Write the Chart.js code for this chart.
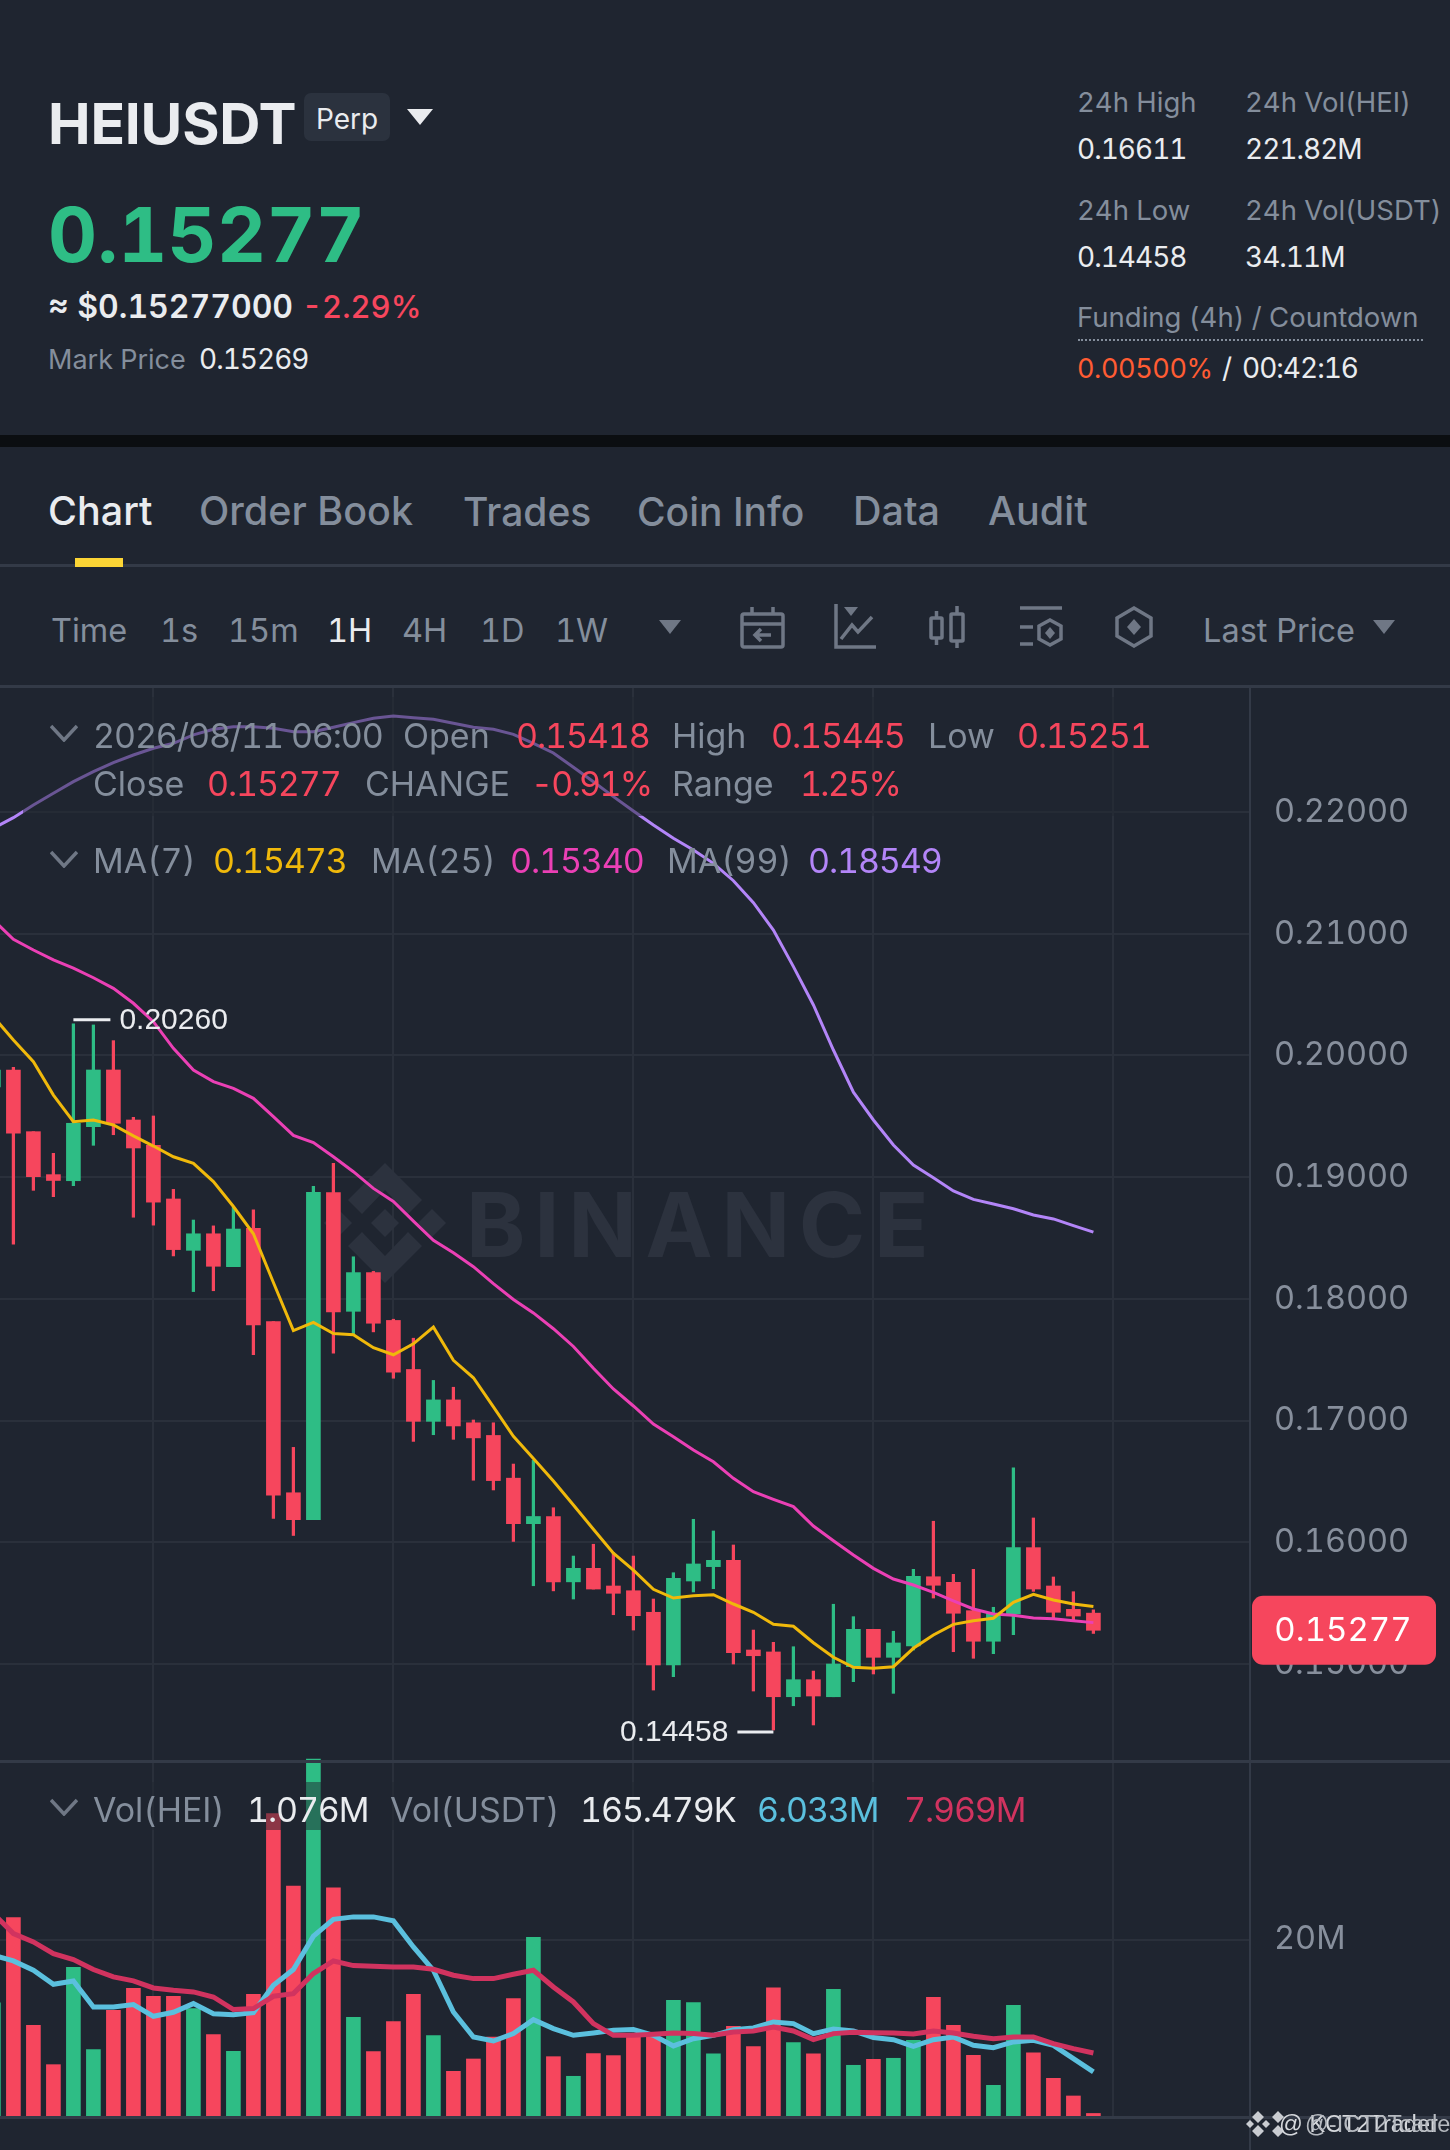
<!DOCTYPE html>
<html>
<head>
<meta charset="utf-8">
<title>HEIUSDT</title>
<script src="https://cdn.jsdelivr.net/npm/chart.js@4/dist/chart.umd.js"></script>
<style>
  html, body { margin: 0; padding: 0; background: #1f2530; }
  #page { position: relative; width: 1450px; height: 2150px; overflow: hidden; background: #1f2530; font-family: Inter, "Noto Sans", sans-serif; color: #848e9c; font-variant-numeric: tabular-nums; }
  #page canvas { position: absolute; left: 0; }
  .t { position: absolute; white-space: nowrap; transform: translateY(-50%); line-height: 1.2; }
  .abs { position: absolute; }
  .head { font-size: 27.5px; }
  .head.w { font-size: 28px; letter-spacing: -1px; }
  .tab { font-size: 39.5px; font-weight: 500; top: 512px; }
  .tool { font-size: 32.5px; top: 630px; }
  .leg { font-size: 34px; }
  .n { letter-spacing: -1.1px; }
  .p { letter-spacing: -1.7px; }
  .w { color: #eaecef; }
  .r { color: #f6465d; }
  .line { position: absolute; background: #333a47; }
</style>
</head>
<body>
<div id="page">
  <!-- header -->
  <div class="t w" style="left:48px;top:124px;font-size:57px;font-weight:700;letter-spacing:-.2px">HEIUSDT</div>
  <div class="abs" style="left:304px;top:93px;width:86px;height:48px;border-radius:7px;background:#2b323e"></div>
  <div class="t w" style="left:316px;top:120px;font-size:28px">Perp</div>
  <svg class="abs" style="left:407px;top:109px" width="27" height="17"><path d="M0 0H26L13 16Z" fill="#eaecef"/></svg>
  <div class="t" style="left:48px;top:235px;font-size:76px;font-weight:700;letter-spacing:.3px;color:#2ebd85">0.15277</div>
  <div class="t w" style="left:48px;top:307px;font-size:32px;font-weight:600">≈ $0.15277000</div>
  <div class="t r" style="left:302px;top:307px;font-size:31px;font-weight:500">-2.29%</div>
  <div class="t head" style="left:48px;top:360px;font-size:27px">Mark Price</div>
  <div class="t head w" style="left:199px;top:360px">0.15269</div>

  <div class="t head" style="left:1077px;top:102px">24h High</div>
  <div class="t head" style="left:1245px;top:102px">24h Vol(HEI)</div>
  <div class="t head w" style="left:1077px;top:150px">0.16611</div>
  <div class="t head w" style="left:1245px;top:150px">221.82M</div>
  <div class="t head" style="left:1077px;top:210px">24h Low</div>
  <div class="t head" style="left:1245px;top:210px">24h Vol(USDT)</div>
  <div class="t head w" style="left:1077px;top:258px">0.14458</div>
  <div class="t head w" style="left:1245px;top:258px">34.11M</div>
  <div class="t head" style="left:1077px;top:317px">Funding (4h) / Countdown</div>
  <div class="abs" style="left:1078px;top:339px;width:345px;border-top:2px dotted #848e9c"></div>
  <div class="t head" style="left:1077px;top:369px;font-size:27px;letter-spacing:-.4px;color:#ff5c33">0.00500%</div>
  <div class="t head w" style="left:1222px;top:369px">/</div>
  <div class="t head w" style="left:1242px;top:369px">00:42:16</div>

  <div class="abs" style="left:0;top:435px;width:1450px;height:12px;background:#0b0e11"></div>

  <!-- tabs -->
  <div class="t tab w" style="left:48px">Chart</div>
  <div class="t tab" style="left:199px">Order Book</div>
  <div class="t tab" style="left:463px;font-size:39px">Trades</div>
  <div class="t tab" style="left:637px;font-size:39px">Coin Info</div>
  <div class="t tab" style="left:853px">Data</div>
  <div class="t tab" style="left:988px">Audit</div>
  <div class="line" style="left:0;top:564px;width:1450px;height:3px"></div>
  <div class="abs" style="left:75px;top:558px;width:48px;height:9px;background:#fcd535"></div>

  <!-- toolbar -->
  <div class="t tool" style="left:51px">Time</div>
  <div class="t tool" style="left:160px">1s</div>
  <div class="t tool" style="left:228px">15m</div>
  <div class="t tool w" style="left:327px">1H</div>
  <div class="t tool" style="left:402px">4H</div>
  <div class="t tool" style="left:480px">1D</div>
  <div class="t tool" style="left:555px">1W</div>
  <svg class="abs" style="left:659px;top:620px" width="22" height="14"><path d="M0 0H22L11 14Z" fill="#6f7785"/></svg>
  <svg class="abs" style="left:740px;top:605px" width="46" height="44" fill="none" stroke="#6f7785" stroke-width="3.5">
    <rect x="2" y="9" width="41" height="33" rx="2"/><path d="M2 19H43M12 2V9M33 2V9"/><path d="M31 30H15M21 24L15 30L21 36"/>
  </svg>
  <svg class="abs" style="left:834px;top:604px" width="44" height="46" fill="none" stroke="#6f7785" stroke-width="3.5">
    <path d="M2 0V43H42M7 35L18 21L24 28L38 13"/><path d="M10 3H24L17 12Z" fill="#6f7785" stroke="none"/>
  </svg>
  <svg class="abs" style="left:929px;top:606px" width="38" height="42" fill="none" stroke="#6f7785" stroke-width="3.5">
    <rect x="2" y="12" width="11" height="20" rx="1"/><path d="M7.5 5V12M7.5 32V39"/><rect x="22" y="8" width="12" height="27" rx="1"/><path d="M28 0V8M28 35V42"/>
  </svg>
  <svg class="abs" style="left:1020px;top:606px" width="44" height="42" fill="none" stroke="#6f7785" stroke-width="3.5">
    <path d="M0 2H42M0 21H13M0 38H13"/><path d="M30 14L41 20V33L30 39L19 33V20Z"/><path d="M30 21L35 27L30 33L25 27Z" fill="#6f7785" stroke="none"/>
  </svg>
  <svg class="abs" style="left:1115px;top:606px" width="38" height="42" fill="none" stroke="#6f7785" stroke-width="3.5">
    <path d="M19 2L36 12V30L19 40L2 30V12Z"/><path d="M19 13L26 21L19 29L12 21Z" fill="#6f7785" stroke="none"/>
  </svg>
  <div class="t tool" style="left:1203px">Last Price</div>
  <svg class="abs" style="left:1373px;top:620px" width="22" height="14"><path d="M0 0H22L11 14Z" fill="#6f7785"/></svg>

  <!-- charts -->
  <canvas id="priceChart" width="1450" height="1075" style="top:686px"></canvas>
  <canvas id="volumeChart" width="1450" height="392" style="top:1758px"></canvas>

  <div class="line" style="left:0;top:685px;width:1450px;height:3px"></div>
  <div class="line" style="left:0;top:1760px;width:1450px;height:3px"></div>
  <div class="line" style="left:0;top:2116px;width:1450px;height:3px"></div>
  <div class="line" style="left:1249px;top:2117px;width:2px;height:33px"></div>

  <!-- price legend -->
  <div class="abs" style="left:23px;top:697px;width:1127px;height:119px;background:rgba(31,37,48,.5)"></div>
  <svg class="abs" style="left:50px;top:724px" width="28" height="18" fill="none" stroke="#6f7785" stroke-width="3.5"><path d="M1 2L14 16L27 2"/></svg>
  <div class="t leg n" style="left:93px;top:736px">2026/08/11 06:00</div>
  <div class="t leg" style="left:403px;top:736px">Open</div>
  <div class="t leg n r" style="left:516px;top:736px">0.15418</div>
  <div class="t leg" style="left:672px;top:736px">High</div>
  <div class="t leg n r" style="left:771px;top:736px">0.15445</div>
  <div class="t leg" style="left:928px;top:736px">Low</div>
  <div class="t leg n r" style="left:1017px;top:736px">0.15251</div>
  <div class="t leg" style="left:93px;top:784px">Close</div>
  <div class="t leg n r" style="left:207px;top:784px">0.15277</div>
  <div class="t leg" style="left:365px;top:784px">CHANGE</div>
  <div class="t leg p r" style="left:531px;top:784px">-0.91%</div>
  <div class="t leg" style="left:672px;top:784px">Range</div>
  <div class="t leg p r" style="left:800px;top:784px">1.25%</div>
  <svg class="abs" style="left:50px;top:850px" width="28" height="18" fill="none" stroke="#6f7785" stroke-width="3.5"><path d="M1 2L14 16L27 2"/></svg>
  <div class="t leg" style="left:93px;top:861px">MA(7)</div>
  <div class="t leg n" style="left:213px;top:861px;color:#f0b90b">0.15473</div>
  <div class="t leg" style="left:371px;top:861px">MA(25)</div>
  <div class="t leg n" style="left:510px;top:861px;color:#eb40b5">0.15340</div>
  <div class="t leg" style="left:667px;top:861px">MA(99)</div>
  <div class="t leg n" style="left:808px;top:861px;color:#b385f8">0.18549</div>

  <!-- volume legend -->
  <div class="abs" style="left:23px;top:1782px;width:1017px;height:48px;background:rgba(31,37,48,.5)"></div>
  <svg class="abs" style="left:50px;top:1798px" width="28" height="18" fill="none" stroke="#6f7785" stroke-width="3.5"><path d="M1 2L14 16L27 2"/></svg>
  <div class="t leg" style="left:93px;top:1810px">Vol(HEI)</div>
  <div class="t leg n w" style="left:247px;top:1810px">1.076M</div>
  <div class="t leg" style="left:390px;top:1810px">Vol(USDT)</div>
  <div class="t leg n w" style="left:580px;top:1810px">165.479K</div>
  <div class="t leg n" style="left:757px;top:1810px;color:#5bc0de">6.033M</div>
  <div class="t leg n" style="left:904px;top:1810px;color:#d1335f">7.969M</div>

  <!-- overlapping share watermark -->
  <svg class="abs" style="left:1246px;top:2110px" width="44" height="28" fill="#c9ccd1"><path d="M12 1L18 7L12 13L6 7ZM12 15L18 21L12 27L6 21ZM4 10L8 14L4 18L0 14ZM20 10L24 14L20 18L16 14Z"/><path d="M32 1L38 7L32 13L26 7ZM32 15L38 21L32 27L26 21Z"/></svg>
  <div class="t" style="left:1279px;top:2124px;font:23.5px 'Liberation Sans',sans-serif;color:#d5d8dc">@ KCT2Trader</div>
  <div class="t" style="left:1305px;top:2124px;font:23.5px 'Liberation Sans',sans-serif;color:#b5b9bf">@-ICT2Tcades</div>
</div>

<script>
// candles, index 0 sits just off the left edge
const opens = [0.19741,0.19881,0.19374,0.19021,0.18971,0.19415,0.19881,0.19470,0.19262,0.18821,0.18399,0.18535,0.18265,0.18580,0.17813,0.16407,0.16186,0.18873,0.17898,0.18216,0.17823,0.17420,0.16994,0.17170,0.16982,0.16878,0.16527,0.16153,0.16212,0.15675,0.15786,0.15641,0.15602,0.15425,0.14992,0.15682,0.15800,0.15852,0.15115,0.15099,0.14731,0.14871,0.14731,0.14978,0.15285,0.15055,0.15148,0.15717,0.15671,0.15438,0.15187,0.15411,0.15956,0.15641,0.15449,0.15418];
const highs = [0.19881,0.19903,0.19374,0.19196,0.20260,0.20251,0.20122,0.19492,0.19503,0.18900,0.18648,0.18600,0.18753,0.18731,0.17813,0.16780,0.18924,0.19113,0.18346,0.18226,0.17833,0.17677,0.17330,0.17274,0.17005,0.16982,0.16643,0.16673,0.16284,0.15887,0.15984,0.15915,0.15887,0.15534,0.15750,0.16189,0.16093,0.15978,0.15279,0.15178,0.15142,0.14942,0.15491,0.15389,0.15285,0.15269,0.15778,0.16173,0.15737,0.15778,0.15466,0.16611,0.16200,0.15715,0.15594,0.15445];
const lows = [0.19741,0.18450,0.18892,0.18840,0.18931,0.19262,0.19349,0.18671,0.18606,0.18353,0.18060,0.18067,0.18265,0.17541,0.16196,0.16056,0.16186,0.17554,0.17703,0.17729,0.17348,0.16829,0.16884,0.16846,0.16510,0.16430,0.16007,0.15643,0.15601,0.15534,0.15616,0.15405,0.15279,0.14786,0.14896,0.15592,0.15619,0.15000,0.14778,0.14458,0.14657,0.14499,0.14731,0.14855,0.14918,0.14759,0.15115,0.15542,0.15101,0.15047,0.15085,0.15241,0.15597,0.15376,0.15362,0.15251];
const closes = [0.19881,0.19361,0.19004,0.18973,0.19443,0.19881,0.19443,0.19240,0.18795,0.18405,0.18535,0.18268,0.18574,0.17787,0.16387,0.16186,0.18876,0.17892,0.18216,0.17800,0.17398,0.16994,0.17170,0.16956,0.16858,0.16507,0.16153,0.16212,0.15675,0.15786,0.15616,0.15581,0.15397,0.14992,0.15704,0.15822,0.15852,0.15093,0.15068,0.14731,0.14871,0.14737,0.15000,0.15285,0.15055,0.15173,0.15721,0.15647,0.15417,0.15187,0.15417,0.15956,0.15616,0.15425,0.15394,0.15277];

const ma7 = [0.20319,0.20127,0.19949,0.19675,0.19456,0.19470,0.19429,0.19339,0.19256,0.19168,0.19114,0.18964,0.18759,0.18535,0.18135,0.17739,0.17807,0.17716,0.17706,0.17599,0.17541,0.17631,0.17768,0.17495,0.17352,0.17112,0.16871,0.16689,0.16504,0.16306,0.16107,0.15910,0.15772,0.15614,0.15542,0.15561,0.15569,0.15493,0.15425,0.15326,0.15310,0.15175,0.15055,0.14973,0.14965,0.14978,0.15129,0.15238,0.15326,0.15356,0.15376,0.15507,0.15573,0.15526,0.15493,0.15473];
const ma25 = [0.21113,0.20955,0.20867,0.20785,0.20717,0.20639,0.20552,0.20429,0.20278,0.20059,0.19881,0.19785,0.19730,0.19648,0.19497,0.19344,0.19284,0.19168,0.19045,0.18908,0.18801,0.18639,0.18482,0.18379,0.18265,0.18126,0.17995,0.17885,0.17755,0.17609,0.17430,0.17260,0.17120,0.16972,0.16868,0.16758,0.16662,0.16526,0.16416,0.16353,0.16293,0.16134,0.16013,0.15896,0.15786,0.15698,0.15649,0.15589,0.15518,0.15452,0.15411,0.15400,0.15378,0.15372,0.15356,0.15340];
const ma99 = [0.21867,0.21954,0.22058,0.22155,0.22250,0.22332,0.22406,0.22469,0.22524,0.22565,0.22634,0.22680,0.22702,0.22702,0.22689,0.22661,0.22661,0.22697,0.22735,0.22771,0.22790,0.22776,0.22763,0.22730,0.22697,0.22680,0.22639,0.22565,0.22486,0.22368,0.22250,0.22127,0.22009,0.21894,0.21785,0.21689,0.21579,0.21436,0.21256,0.21031,0.20730,0.20415,0.20045,0.19698,0.19470,0.19265,0.19100,0.18996,0.18887,0.18818,0.18780,0.18741,0.18689,0.18657,0.18602,0.18549];

// volume in millions
const volumes = [12.86,22.48,10.34,5.90,16.88,7.59,12.03,14.51,13.61,13.61,12.22,9.29,7.41,13.83,34.20,26.02,40.34,25.83,11.24,7.37,10.75,13.83,9.17,5.15,6.54,9.02,13.35,20.26,6.80,4.59,7.14,6.92,9.40,9.02,13.16,12.89,7.11,10.23,7.93,14.55,8.38,7.11,14.40,5.83,6.50,6.62,8.65,13.50,10.34,6.95,3.57,12.59,7.22,4.36,2.37,0.40];
const volMa5 = [18.23,17.59,16.54,14.96,15.34,12.41,12.41,12.67,11.35,11.80,12.78,11.65,11.54,11.77,14.85,16.62,20.38,22.29,22.56,22.56,22.11,19.17,16.54,11.84,9.02,8.57,9.40,10.98,9.96,9.21,9.47,9.77,9.85,9.21,8.01,8.83,9.21,9.85,10.04,10.71,10.53,9.40,9.92,9.70,8.95,8.72,7.97,8.72,9.02,8.08,7.82,8.46,8.65,8.08,6.58,5.08];
const volMa10 = [22.93,20.68,19.74,18.42,17.74,16.62,15.79,15.34,14.55,14.29,14.10,13.53,12.11,12.22,13.61,13.91,16.17,17.59,17.07,16.99,16.92,16.92,16.65,15.98,15.60,15.60,16.09,16.54,14.66,12.97,10.53,9.21,9.21,9.32,9.47,9.40,9.21,9.59,9.70,10.15,9.70,8.72,9.40,9.55,9.51,9.47,9.36,9.70,9.47,9.10,8.83,9.02,9.02,8.27,7.71,7.22];

const priceTicks = [0.15,0.16,0.17,0.18,0.19,0.20,0.21,0.22];
const volumeTicks = [20];
const timeGridLines = [8,20,32,44,56];
const lastPrice = closes[closes.length - 1];

const GREEN = '#2ebd85';
const RED = '#f6465d';
const GRID = '#2a303b';
const AXIS = '#333a47';
const LABEL = '#878f9c';
const WATERMARK = '#2c323e';

const candleColors = closes.map((c, i) => (c >= opens[i] ? GREEN : RED));
const points = (arr) => arr.map((v, i) => ({ x: i, y: v }));

function lineSet(values, color, width, order) {
    return { type: 'line', data: points(values), borderColor: color, borderWidth: width, pointRadius: 0, tension: 0, order: order };
}

function barSet(rows, thickness, order) {
    return { type: 'bar', data: rows, backgroundColor: candleColors, barThickness: thickness, grouped: false, order: order };
}

// x axis shared by both panes, grid every 12 candles
function xAxis() {
    return {
        type: 'linear',
        offset: false,
        min: 0.33,
        max: 62.83,
        afterBuildTicks: (scale) => { scale.ticks = timeGridLines.map(v => ({ value: v })); },
        afterFit: (scale) => { scale.height = 0; },
        ticks: { display: false },
        border: { display: false },
        grid: { color: GRID, lineWidth: 2, drawTicks: false, offset: false }
    };
}

function yAxis(ticks, min, max, format) {
    return {
        type: 'linear',
        offset: false,
        position: 'right',
        min: min,
        max: max,
        afterBuildTicks: (scale) => { scale.ticks = ticks.map(v => ({ value: v })); },
        afterFit: (scale) => {
            scale.width = 200;
            scale.paddingTop = 0;
            scale.paddingBottom = 0;
        },
        ticks: { color: LABEL, padding: 24, autoSkip: false, font: { family: 'Inter', size: 32.5 }, callback: format },
        border: { color: AXIS, width: 2 },
        grid: { color: GRID, lineWidth: 2, drawTicks: false, offset: false }
    };
}

const commonOptions = {
    responsive: false,
    animation: false,
    devicePixelRatio: 1,
    events: [],
    plugins: { legend: { display: false }, tooltip: { enabled: false } }
};

// faint logo behind the candles
const watermarkPlugin = {
    id: 'watermark',
    beforeDatasetsDraw(chart) {
        const ctx = chart.ctx;
        const cx = 385, cy = 1223 - 686;
        const poly = (pts) => {
            ctx.beginPath();
            pts.forEach((p, i) => (i ? ctx.lineTo(cx + p[0], cy + p[1]) : ctx.moveTo(cx + p[0], cy + p[1])));
            ctx.closePath();
            ctx.fill();
        };
        ctx.save();
        ctx.fillStyle = WATERMARK;
        poly([[0, -60], [37, -23], [23, -9], [0, -33], [-23, -9], [-37, -23]]);
        poly([[0, 60], [37, 23], [23, 9], [0, 33], [-23, 9], [-37, 23]]);
        poly([[0, -14], [14, 0], [0, 14], [-14, 0]]);
        poly([[47, -14], [61, 0], [47, 14], [33, 0]]);
        poly([[-47, -14], [-33, 0], [-47, 14], [-61, 0]]);
        ctx.font = '700 90px Inter';
        ctx.letterSpacing = '8.7px';
        ctx.textBaseline = 'alphabetic';
        ctx.fillText('BINANCE', 466, 1257 - 686);
        ctx.restore();
    }
};

// high and low markers, last price badge
const markersPlugin = {
    id: 'markers',
    afterDraw(chart) {
        const ctx = chart.ctx;
        const x = chart.scales.x, y = chart.scales.y;
        const hi = highs.indexOf(Math.max(...highs));
        const lo = lows.indexOf(Math.min(...lows));
        ctx.save();
        ctx.fillStyle = '#eaecef';
        ctx.strokeStyle = '#eaecef';
        ctx.lineWidth = 3;
        ctx.font = '30px "Liberation Sans"';
        ctx.textBaseline = 'middle';

        const hx = x.getPixelForValue(hi), hy = y.getPixelForValue(highs[hi]) - 4;
        ctx.beginPath(); ctx.moveTo(hx, hy); ctx.lineTo(hx + 37, hy); ctx.stroke();
        ctx.textAlign = 'left';
        ctx.fillText(highs[hi].toFixed(5), hx + 46, hy + 1);

        const lx = x.getPixelForValue(lo), ly = y.getPixelForValue(lows[lo]) + 2;
        ctx.beginPath(); ctx.moveTo(lx, ly); ctx.lineTo(lx - 36, ly); ctx.stroke();
        ctx.textAlign = 'right';
        ctx.fillText(lows[lo].toFixed(5), lx - 45, ly + 1);

        const by = y.getPixelForValue(lastPrice);
        ctx.fillStyle = RED;
        ctx.beginPath();
        ctx.roundRect(1252, by - 34.5, 184, 69, 11);
        ctx.fill();
        ctx.fillStyle = '#ffffff';
        ctx.font = '33px Inter';
        ctx.textAlign = 'center';
        ctx.fillText(lastPrice.toFixed(5), 1343, by + 1);
        ctx.restore();
    }
};

new Chart(document.getElementById('priceChart'), {
    data: {
        datasets: [
            lineSet(ma7, '#f0b90b', 3, 0),
            lineSet(ma25, '#eb40b5', 3, 0),
            lineSet(ma99, '#b385f8', 3, 0),
            barSet(opens.map((o, i) => ({ x: i, y: [o, closes[i]] })), 14, 1),
            barSet(lows.map((l, i) => ({ x: i, y: [l, highs[i]] })), 2.6, 2)
        ]
    },
    options: {
        ...commonOptions,
        layout: { padding: 0 },
        scales: {
            x: xAxis(),
            y: yAxis(priceTicks, 0.14203, 0.23036, (v) => v.toFixed(5))
        }
    },
    plugins: [watermarkPlugin, markersPlugin]
});

new Chart(document.getElementById('volumeChart'), {
    data: {
        datasets: [
            lineSet(volMa10, '#d1335f', 5, 0),
            lineSet(volMa5, '#5bc0de', 5, 1),
            barSet(volumes.map((v, i) => ({ x: i, y: v })), 14, 2)
        ]
    },
    options: {
        ...commonOptions,
        layout: { padding: { bottom: 33 } },
        scales: {
            x: xAxis(),
            y: yAxis(volumeTicks, 0, 40.47, (v) => v + 'M')
        }
    }
});
</script>
</body>
</html>
